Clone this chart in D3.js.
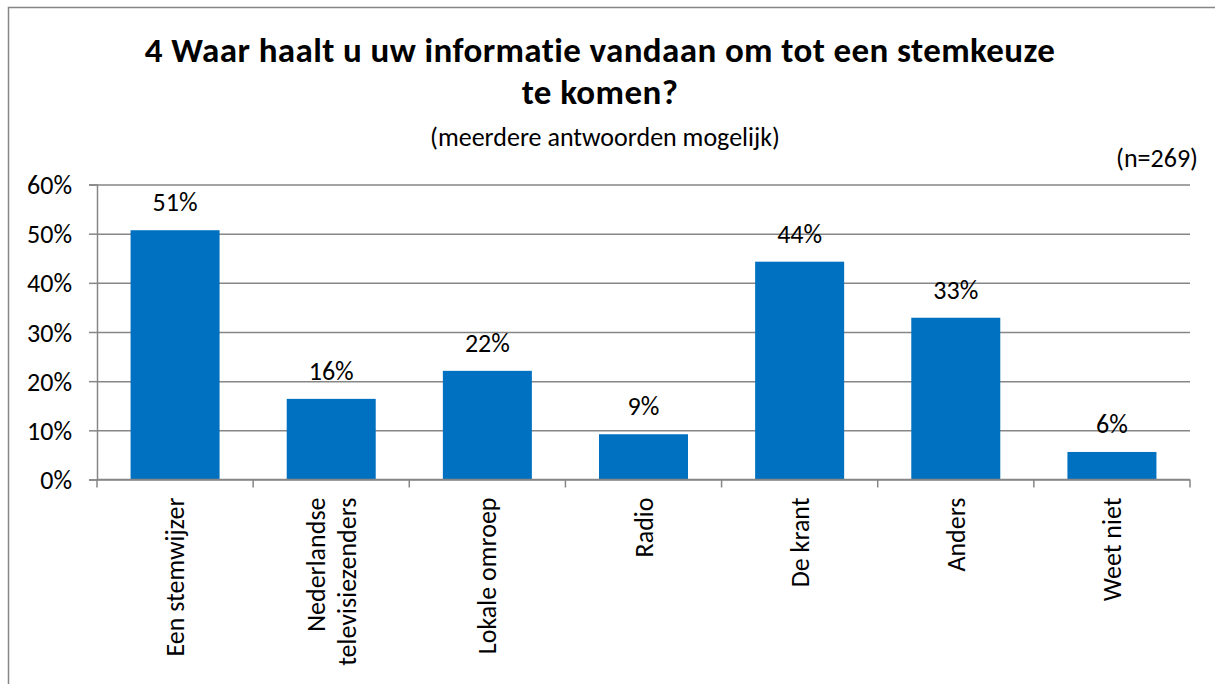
<!DOCTYPE html>
<html>
<head>
<meta charset="utf-8">
<script src="https://cdn.jsdelivr.net/npm/d3@7"></script>
<style>
  html, body { margin: 0; padding: 0; background: #fff; overflow: hidden; }
  svg { display: block; }
  svg text { font-family: Carlito, Calibri, Lato, sans-serif; fill: #000; }
</style>
</head>
<body>
<script>
"use strict";

// data
const categories = ["Een stemwijzer", "Nederlandse televisiezenders", "Lokale omroep", "Radio", "De krant", "Anders", "Weet niet"];
const categoryLines = [["Een stemwijzer"], ["Nederlandse", "televisiezenders"], ["Lokale omroep"], ["Radio"], ["De krant"], ["Anders"], ["Weet niet"]];
const values = [0.507, 0.164, 0.221, 0.092, 0.443, 0.329, 0.056];
const valueLabels = ["51%", "16%", "22%", "9%", "44%", "33%", "6%"];
const yTicks = [0, 0.1, 0.2, 0.3, 0.4, 0.5, 0.6];
const titleLines = ["4 Waar haalt u uw informatie vandaan om tot een stemkeuze", "te komen?"];
const subtitle = "(meerdere antwoorden mogelijk)";
const sampleNote = "(n=269)";

const w = 1215, h = 684;
const margin = { top: 184.5, left: 97, right: 25, bottom: 204.5 };
const width = w - margin.left - margin.right;
const height = h - margin.top - margin.bottom;
const gray = "#868686";
const blue = "#0070C0";
const fontSize = "26px";

const svg = d3.select("body")
	.append("svg")
	.attr("width", w)
	.attr("height", h);

// outer chart frame: only the left and top edges are inside the picture
svg.append("path")
	.attr("d", `M8.5,${h} V7.5 H${w}`)
	.attr("fill", "none")
	.attr("stroke", gray)
	.attr("stroke-width", 1.5);

// title, one text with a line per tspan
svg.append("text")
	.attr("text-anchor", "middle")
	.style("font-size", "35px")
	.style("font-weight", "bold")
	.style("letter-spacing", "0.4px")
	.selectAll("tspan")
	.data(titleLines)
	.enter()
	.append("tspan")
	.attr("x", 600)
	.attr("y", (d, i) => 62 + i * 42)
	.text(d => d);

svg.append("text")
	.attr("x", 605)
	.attr("y", 146)
	.attr("text-anchor", "middle")
	.style("font-size", fontSize)
	.text(subtitle);

svg.append("text")
	.attr("x", 1198)
	.attr("y", 167)
	.attr("text-anchor", "end")
	.style("font-size", fontSize)
	.text(sampleNote);

const chart = svg.append("g")
	.attr("transform", `translate(${margin.left}, ${margin.top})`);

const x = d3.scaleBand()
	.domain(categories)
	.range([0, width])
	.paddingInner(0.43)
	.paddingOuter(0.215);
const y = d3.scaleLinear()
	.domain([0, 0.6])
	.range([height, 0]);

// gridlines
const yGridLines = d3.axisLeft()
	.scale(y)
	.tickValues(yTicks)
	.tickSize(-width)
	.tickFormat("");
chart.append("g")
	.call(yGridLines)
	.call(g => g.select(".domain").remove())
	.call(g => g.selectAll("line").attr("stroke", gray).attr("stroke-width", 1.5));

// y axis
const yAxis = d3.axisLeft()
	.scale(y)
	.tickValues(yTicks)
	.tickSize(8)
	.tickPadding(17)
	.tickFormat(d3.format(".0%"));
chart.append("g")
	.call(yAxis)
	.call(g => g.select(".domain").attr("stroke", gray).attr("stroke-width", 1.5))
	.call(g => g.selectAll(".tick line").attr("stroke", gray).attr("stroke-width", 1.5))
	.call(g => g.selectAll(".tick text").style("font-size", fontSize).attr("dy", "0.35em"));

// bars
chart.selectAll("rect.bar")
	.data(values)
	.enter()
	.append("rect")
	.classed("bar", true)
	.attr("x", (d, i) => x(categories[i]))
	.attr("y", d => y(d))
	.attr("width", x.bandwidth())
	.attr("height", d => height - y(d))
	.attr("fill", blue);

// value labels
chart.selectAll("text.value")
	.data(values)
	.enter()
	.append("text")
	.classed("value", true)
	.attr("x", (d, i) => x(categories[i]) + x.bandwidth() / 2)
	.attr("y", d => y(d) - 19)
	.attr("text-anchor", "middle")
	.style("font-size", fontSize)
	.text((d, i) => valueLabels[i]);

// x axis line and category boundary ticks
const bounds = categories.map(c => x(c) - x.step() * x.paddingInner() / 2).concat([width]);
chart.append("line")
	.attr("x1", 0)
	.attr("x2", width)
	.attr("y1", height)
	.attr("y2", height)
	.attr("stroke", gray)
	.attr("stroke-width", 1.5);
chart.selectAll("line.xtick")
	.data(bounds)
	.enter()
	.append("line")
	.classed("xtick", true)
	.attr("x1", d => d)
	.attr("x2", d => d)
	.attr("y1", height)
	.attr("y2", height + 8)
	.attr("stroke", gray)
	.attr("stroke-width", 1.5);

// rotated category labels
const catLabels = chart.selectAll("text.cat")
	.data(categoryLines)
	.enter()
	.append("text")
	.classed("cat", true)
	.attr("transform", (d, i) => `translate(${x(categories[i]) + x.bandwidth() / 2}, ${height + 18}) rotate(-90)`)
	.attr("text-anchor", "end")
	.style("font-size", fontSize);
catLabels.selectAll("tspan")
	.data(d => d.map((t, j) => ({ t, j, n: d.length })))
	.enter()
	.append("tspan")
	.attr("x", 0)
	.attr("y", d => (d.j - (d.n - 1) / 2) * 31)
	.attr("dy", "0.35em")
	.text(d => d.t);
</script>
</body>
</html>
